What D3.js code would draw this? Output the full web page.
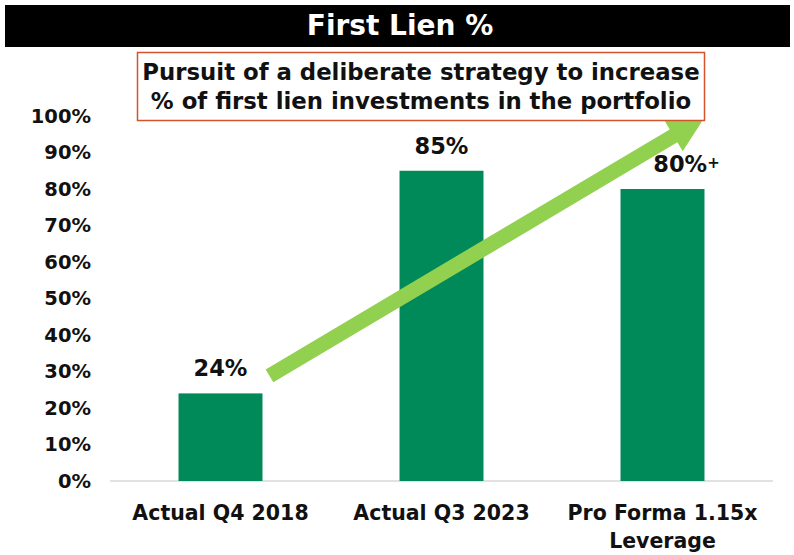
<!DOCTYPE html>
<html>
<head>
<meta charset="utf-8">
<script src="https://cdn.jsdelivr.net/npm/d3@7"></script>
<style>
  body { margin: 0; background: #fff; }
  svg { display: block; }
  text { font-family: "DejaVu Sans", sans-serif; font-weight: bold; }
</style>
</head>
<body>
<div id="chart"></div>
<script>
const categories = [["Actual Q4 2018"], ["Actual Q3 2023"], ["Pro Forma 1.15x", "Leverage"]];
const values = [24, 85, 80];
const valueLabels = ["24%", "85%", "80%"];
const valueSuffix = ["", "", "+"];
const yTicks = [0, 10, 20, 30, 40, 50, 60, 70, 80, 90, 100];
const title = "First Lien %";
const note = ["Pursuit of a deliberate strategy to increase", "% of first lien investments in the portfolio"];

const W = 794, H = 555;
const margin = { top: 116, right: 21, bottom: 74, left: 110 };
const width = W - margin.left - margin.right;
const height = H - margin.top - margin.bottom;

const svg = d3.select("#chart").append("svg")
    .attr("width", W)
    .attr("height", H);

// title bar
svg.append("rect")
    .attr("x", 5).attr("y", 5)
    .attr("width", 785).attr("height", 42)
    .attr("fill", "#000");
svg.append("text")
    .attr("x", 400).attr("y", 35)
    .attr("text-anchor", "middle")
    .attr("fill", "#fff")
    .style("font-size", "28px")
    .text(title);

const g = svg.append("g")
    .attr("transform", `translate(${margin.left},${margin.top})`);

const x = d3.scaleBand()
    .domain(d3.range(categories.length))
    .range([0, width])
    .paddingInner(0.62)
    .paddingOuter(0.31);

const y = d3.scaleLinear()
    .domain([0, 100])
    .range([height, 0]);

// y axis labels
const yAxis = g.append("g")
    .call(d3.axisLeft(y).tickValues(yTicks).tickFormat(d => d + "%").tickSize(0).tickPadding(19));
yAxis.select(".domain").remove();
yAxis.selectAll("text")
    .style("font-family", "DejaVu Sans")
    .style("font-weight", "bold")
    .style("font-size", "19.5px")
    .attr("fill", "#111");

// baseline
g.append("line")
    .attr("x1", 0).attr("x2", width)
    .attr("y1", height).attr("y2", height)
    .attr("stroke", "#d9d9d9")
    .attr("stroke-width", 1.5);

// bars
g.selectAll(".bar")
    .data(values)
    .enter()
    .append("rect")
    .attr("class", "bar")
    .attr("x", (d, i) => x(i))
    .attr("y", d => y(d))
    .attr("width", x.bandwidth())
    .attr("height", d => height - y(d))
    .attr("fill", "#008a5a");

// trend arrow, from first bar up to the top right corner of the last bar
const x0 = x(0) + x.bandwidth() + 7, y0 = y(28.8);
const x1 = x(2) + x.bandwidth(), y1 = y(99.6);
const ang = Math.atan2(y1 - y0, x1 - x0);
const headLen = 36, headHalf = 18, shaft = 7.5;
const bx = x1 - headLen * Math.cos(ang), by = y1 - headLen * Math.sin(ang);
const nx = -Math.sin(ang), ny = Math.cos(ang);
const pts = [
    [x0 + nx * shaft, y0 + ny * shaft],
    [bx + nx * shaft, by + ny * shaft],
    [bx + nx * headHalf, by + ny * headHalf],
    [x1, y1],
    [bx - nx * headHalf, by - ny * headHalf],
    [bx - nx * shaft, by - ny * shaft],
    [x0 - nx * shaft, y0 - ny * shaft]
];
g.append("path")
    .attr("d", d3.line()(pts) + "Z")
    .attr("fill", "#92d050");

// value labels (the "+" one is nudged right, clear of the arrow)
const vl = g.selectAll(".vlabel")
    .data(values)
    .enter()
    .append("text")
    .attr("class", "vlabel")
    .attr("x", (d, i) => x(i) + x.bandwidth() / 2 + (valueSuffix[i] ? 24 : 0))
    .attr("y", d => y(d) - 17)
    .attr("text-anchor", "middle")
    .style("font-size", "22.5px")
    .attr("fill", "#111");
vl.append("tspan").text((d, i) => valueLabels[i]);
vl.append("tspan").style("font-size", "15px").attr("dy", -4).text((d, i) => valueSuffix[i]);

// category labels
const cl = g.selectAll(".clabel")
    .data(categories)
    .enter()
    .append("text")
    .attr("class", "clabel")
    .attr("text-anchor", "middle")
    .attr("transform", (d, i) => `translate(${x(i) + x.bandwidth() / 2},${height + 39})`)
    .style("font-size", "20.5px")
    .attr("fill", "#111");
cl.selectAll("tspan")
    .data(d => d)
    .enter()
    .append("tspan")
    .attr("x", 0)
    .attr("dy", (d, i) => i === 0 ? 0 : 28)
    .text(d => d);

// annotation box
svg.append("rect")
    .attr("x", 137.5).attr("y", 52.5)
    .attr("width", 567).attr("height", 68)
    .attr("fill", "#fff")
    .attr("stroke", "#d4532b")
    .attr("stroke-width", 1.5);
svg.append("text")
    .attr("text-anchor", "middle")
    .style("font-size", "22.8px")
    .attr("fill", "#111")
    .selectAll("tspan")
    .data(note)
    .enter()
    .append("tspan")
    .attr("x", 421)
    .attr("y", (d, i) => 80 + i * 29)
    .text(d => d);
</script>
</body>
</html>
